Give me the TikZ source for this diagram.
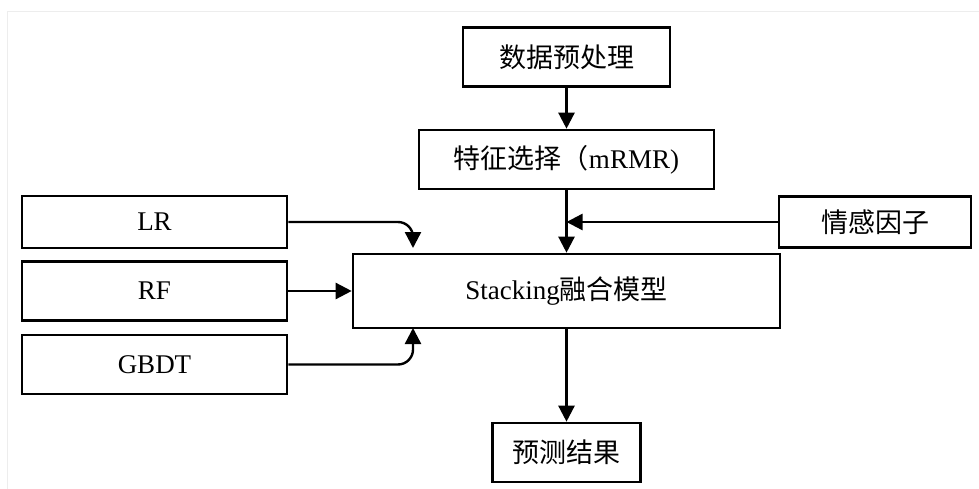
\documentclass[tikz,border=0pt]{standalone}
\usepackage{fontspec}
\setmainfont{Liberation Serif}
\newfontfamily\cjk{Noto Sans CJK SC}
\usetikzlibrary{arrows.meta}
\begin{document}
\begin{tikzpicture}[x=1pt,y=-1pt,
  box/.style={draw, line width=2.6pt, inner sep=0pt, font=\fontsize{27}{32}\selectfont},
  conn/.style={line width=2.4pt, -{Triangle[length=16pt,width=16pt]}}]
\useasboundingbox (0,0) rectangle (979,489);
% faint outer frame
\draw[black!7, line width=1pt] (7,489) -- (7,12) -- (979,12);

\node[box, minimum width=207pt, minimum height=59pt] (pre) at (566.5,57) {\cjk 数据预处理};
\node[box, minimum width=295pt, minimum height=59pt] (feat) at (566.5,159.5) {{\cjk 特征选择（}mRMR)};
\node[box, minimum width=265pt, minimum height=52pt] (lr) at (154.5,222) {LR};
\node[box, minimum width=265pt, minimum height=59pt] (rf) at (154.5,291) {RF};
\node[box, minimum width=265pt, minimum height=59pt] (gbdt) at (154.5,364.5) {GBDT};
\node[box, minimum width=427pt, minimum height=74pt] (stack) at (566.5,291) {Stacking{\cjk 融合模型}};
\node[box, minimum width=192pt, minimum height=51pt] (emo) at (875,222) {\cjk 情感因子};
\node[box, minimum width=148pt, minimum height=59pt] (res) at (566.5,452.5) {\cjk 预测结果};

\coordinate (lrin) at (413,254);
\coordinate (gbin) at (413,328);
\coordinate (emoin) at (566.5,222);

\draw[conn] (pre) -- (feat);
\draw[conn] (feat) -- (stack);
\draw[conn] (emo.west) -- (emoin);
\draw[conn] (stack) -- (res);
\draw[conn] (rf.east) -- (stack.west);
\draw[conn, rounded corners=15pt, shorten >=6pt] (lr.east) -| (lrin);
\draw[conn, rounded corners=15pt] (gbdt.east) -| (gbin);
\end{tikzpicture}
\end{document}
